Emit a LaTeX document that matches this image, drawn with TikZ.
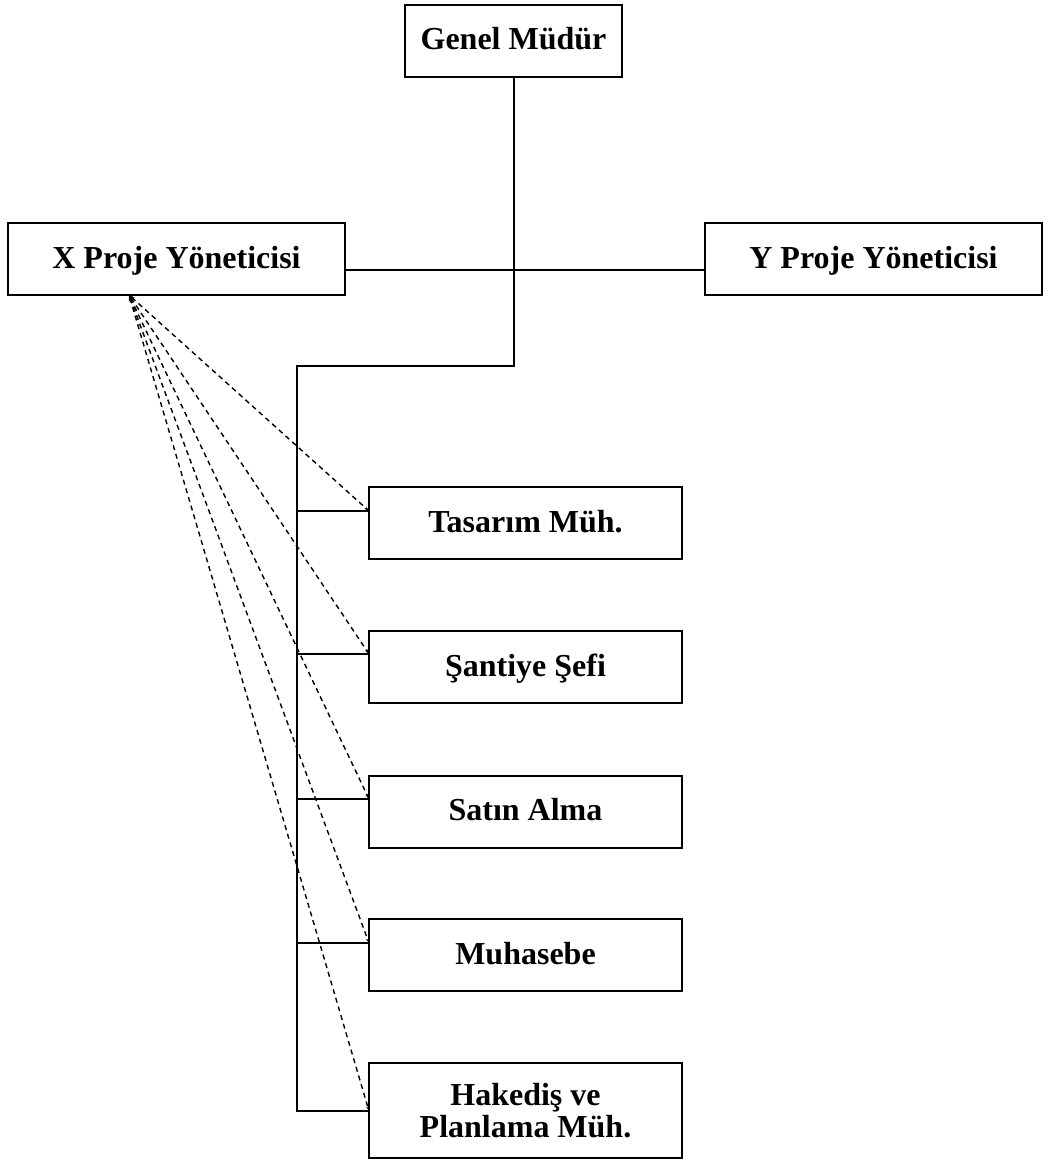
\documentclass[tikz,border=0pt]{standalone}
\usepackage{fontspec}
\setmainfont{Liberation Serif}
\usetikzlibrary{arrows.meta}
\begin{document}
\begin{tikzpicture}[x=1pt,y=-1pt,
  unitbox/.style={draw,line width=2pt,inner sep=0pt,align=center,
    font=\fontsize{32}{32}\selectfont\bfseries},
  oneline/.style={unitbox,text height=23pt,text depth=5pt},
  solidlink/.style={line width=2pt},
  dottedlink/.style={line width=1.4pt,dash pattern=on 5pt off 4pt,
    {Stealth[length=6pt,width=4pt]}-{Stealth[length=5pt,width=3pt]}}]
\useasboundingbox (0,0) rectangle (1048,1161);

% boxes
\node[oneline,minimum width=217,minimum height=72] (gm) at (513.5,41) {Genel Müdür};
\node[oneline,minimum width=337,minimum height=72] (xp) at (176.5,259) {X Proje Yöneticisi};
\node[oneline,minimum width=337,minimum height=72] (yp) at (873.5,259) {Y Proje Yöneticisi};
\node[oneline,minimum width=313,minimum height=72] (ta) at (525.5,523) {Tasarım Müh.};
\node[oneline,minimum width=313,minimum height=72] (sf) at (525.5,667) {Şantiye Şefi};
\node[oneline,minimum width=313,minimum height=72] (sa) at (525.5,811.5) {Satın Alma};
\node[oneline,minimum width=313,minimum height=72] (mu) at (525.5,955) {Muhasebe};
\node[unitbox,minimum width=313,minimum height=95] (hk) at (525.5,1110.5) {Hakediş ve\\Planlama Müh.};

% junction points
\coordinate (pm-line) at (513.5,270);
\coordinate (spine-top) at (297,366);
\coordinate (ta-in) at (369,511);
\coordinate (sf-in) at (369,654);
\coordinate (sa-in) at (369,799);
\coordinate (mu-in) at (369,943);
\coordinate (hk-in) at (369,1111);
\coordinate (xp-out) at (129,295);

% line organisation
\draw[solidlink] (gm.south) -- (gm.south |- spine-top) -- (spine-top) -- (spine-top |- hk-in) -- (hk-in);
\draw[solidlink] (xp.east |- pm-line) -- (yp.west |- pm-line);
\foreach \b in {ta-in,sf-in,sa-in,mu-in}
  \draw[solidlink] (spine-top |- \b) -- (\b);

% project manager links
\foreach \b in {ta-in,sf-in,sa-in,mu-in,hk-in}
  \draw[dottedlink] (xp-out) -- (\b);
\end{tikzpicture}
\end{document}
